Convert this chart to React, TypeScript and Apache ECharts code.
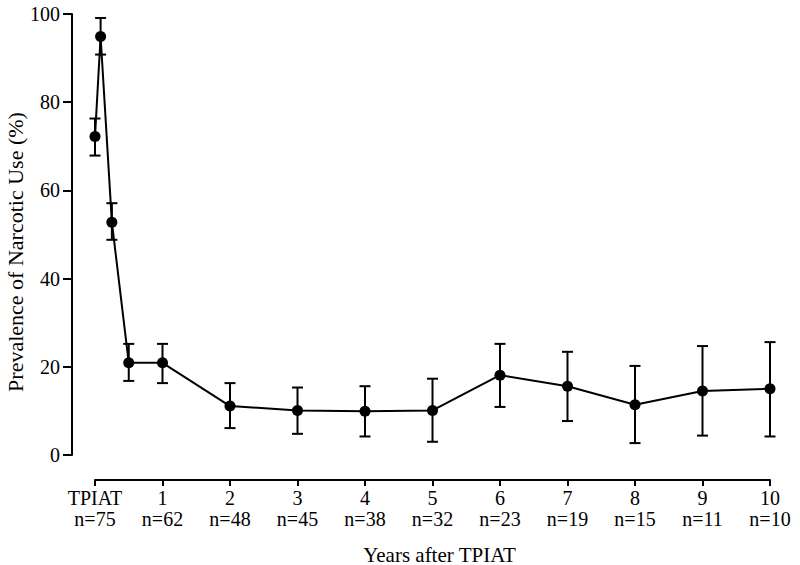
import React, { useEffect, useRef } from "react";
import * as echarts from "echarts";

const years = [0, 0.083, 0.25, 0.5, 1, 2, 3, 4, 5, 6, 7, 8, 9, 10];
const prevalence = [72.2, 94.9, 52.8, 20.9, 20.9, 11.1, 10.1, 9.9, 10.1, 18.1, 15.6, 11.4, 14.5, 15.0];
const upperCI = [76.3, 99.1, 57.1, 25.2, 25.2, 16.3, 15.3, 15.6, 17.3, 25.2, 23.4, 20.2, 24.7, 25.6];
const lowerCI = [67.9, 90.8, 48.8, 16.8, 16.3, 6.1, 4.8, 4.2, 3.0, 10.9, 7.7, 2.7, 4.4, 4.2];
const tickYears = [0, 1, 2, 3, 4, 5, 6, 7, 8, 9, 10];
const tickNames = ["TPIAT", "1", "2", "3", "4", "5", "6", "7", "8", "9", "10"];
const sampleSizes = [75, 62, 48, 45, 38, 32, 23, 19, 15, 11, 10];
const yTitle = "Prevalence of Narcotic Use (%)";
const xTitle = "Years after TPIAT";

const FONT = "'Liberation Serif', 'DejaVu Serif', serif";

export default function App() {
  const ref = useRef<HTMLDivElement>(null);
  useEffect(() => {
    if (!ref.current) return;
    const chart = echarts.init(ref.current, null, { renderer: "svg" });
    const errData = years.map((x, i) => [x, lowerCI[i], upperCI[i]]);
    chart.setOption({
      animation: false,
      backgroundColor: "#fff",
      grid: {
        left: 95,
        right: 30,
        top: 14,
        bottom: 110,
        containLabel: false,
        outerBoundsMode: "none",
      },
      graphic: [
        {
          type: "text",
          x: 15,
          y: 252,
          rotation: Math.PI / 2,
          style: {
            text: yTitle,
            fontFamily: FONT,
            fontSize: 22,
            fill: "#000",
            align: "center",
            verticalAlign: "middle",
          },
        },
      ],
      xAxis: {
        type: "value",
        min: 0,
        max: 10,
        interval: 1,
        offset: 25,
        name: xTitle,
        nameLocation: "middle",
        nameGap: 64,
        nameTextStyle: { fontFamily: FONT, fontSize: 21, color: "#000", padding: [0, 0, 0, 14] },
        axisLine: { show: true, onZero: false, lineStyle: { color: "#000", width: 2 } },
        axisTick: { show: true, lineStyle: { color: "#000", width: 2 }, length: 6 },
        splitLine: { show: false },
        axisLabel: {
          fontFamily: FONT,
          fontSize: 20,
          color: "#000",
          lineHeight: 21,
          margin: 7,
          formatter: (v: number) => {
            const i = tickYears.indexOf(Math.round(v));
            return i >= 0 ? `${tickNames[i]}\nn=${sampleSizes[i]}` : "";
          },
        },
      },
      yAxis: {
        type: "value",
        min: 0,
        max: 100,
        interval: 20,
        offset: 23,
        axisLine: { show: true, onZero: false, lineStyle: { color: "#000", width: 2 } },
        axisTick: { show: true, lineStyle: { color: "#000", width: 2 }, length: 9 },
        splitLine: { show: false },
        axisLabel: { fontFamily: FONT, fontSize: 20, color: "#000", margin: 12 },
      },
      series: [
        {
          type: "custom",
          data: errData,
          z: 1,
          renderItem: (params: any, api: any) => {
            const x = api.value(0);
            const lo = api.coord([x, api.value(1)]);
            const hi = api.coord([x, api.value(2)]);
            const w = 5.5;
            const style = { stroke: "#000", lineWidth: 2 };
            return {
              type: "group",
              children: [
                { type: "line", shape: { x1: lo[0], y1: lo[1], x2: hi[0], y2: hi[1] }, style },
                { type: "line", shape: { x1: hi[0] - w, y1: hi[1], x2: hi[0] + w, y2: hi[1] }, style },
                { type: "line", shape: { x1: lo[0] - w, y1: lo[1], x2: lo[0] + w, y2: lo[1] }, style },
              ],
            };
          },
        },
        {
          type: "line",
          data: years.map((x, i) => [x, prevalence[i]]),
          symbol: "circle",
          symbolSize: 11,
          itemStyle: { color: "#000" },
          lineStyle: { color: "#000", width: 2 },
          z: 2,
        },
      ],
    });
    return () => chart.dispose();
  }, []);
  return (
    <div
      ref={ref}
      style={{ position: "absolute", left: 0, top: 0, width: 800, height: 565 }}
    />
  );
}
